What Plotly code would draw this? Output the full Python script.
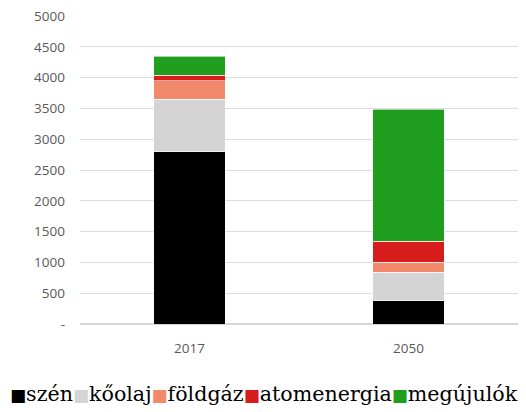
import plotly.graph_objects as go

# data
years = ["2017", "2050"]
szen = [2800, 380]
koolaj = [850, 460]
foldgaz = [300, 165]
atom = [90, 335]
megujulok = [310, 2145]

names = ["szén", "kőolaj", "földgáz", "atomenergia", "megújulók"]
series = [szen, koolaj, foldgaz, atom, megujulok]
colors = ["#000000", "#d4d4d4", "#f2896b", "#d71c1c", "#1f9e1f"]

tick_vals = [0, 500, 1000, 1500, 2000, 2500, 3000, 3500, 4000, 4500, 5000]
tick_text = ["-", "500", "1000", "1500", "2000", "2500", "3000", "3500", "4000", "4500", "5000"]

fig = go.Figure()
for name, vals, col in zip(names, series, colors):
    fig.add_trace(go.Bar(x=years, y=vals, name=name, width=0.325, showlegend=False,
                         marker=dict(color=col, line=dict(color="white", width=0.6))))

# legend drawn as one line of text, the plotly legend spaces items too widely
legend_txt = "".join(
    "<span style='color:%s;font-size:17px'>■</span>%s" % (c, n) for n, c in zip(names, colors)
)
fig.add_annotation(text=legend_txt, xref="paper", yref="paper", x=0.42, y=-0.228,
                   xanchor="center", yanchor="middle", showarrow=False,
                   font=dict(family="DejaVu Serif", size=20.6, color="#000000"))

# page body has an 8px margin, so the figure is a bit smaller than the window
fig.update_layout(
    width=518, height=404,
    barmode="stack",
    plot_bgcolor="white", paper_bgcolor="white",
    margin=dict(l=72, r=8, t=8, b=88),
    font=dict(family="Open Sans", color="#595959", size=13.5),
    showlegend=False,
)
fig.update_yaxes(range=[0, 5000], tickvals=tick_vals, ticktext=tick_text,
                 showgrid=True, gridcolor="#dedede", gridwidth=1.2,
                 zeroline=True, zerolinecolor="#d6d6d6", ticks="", ticklabelstandoff=14,
                 ticklabeloverflow="allow", automargin=False)
fig.update_xaxes(showline=False, ticks="", ticklabelstandoff=14, automargin=False)

fig.write_html("out.html")
